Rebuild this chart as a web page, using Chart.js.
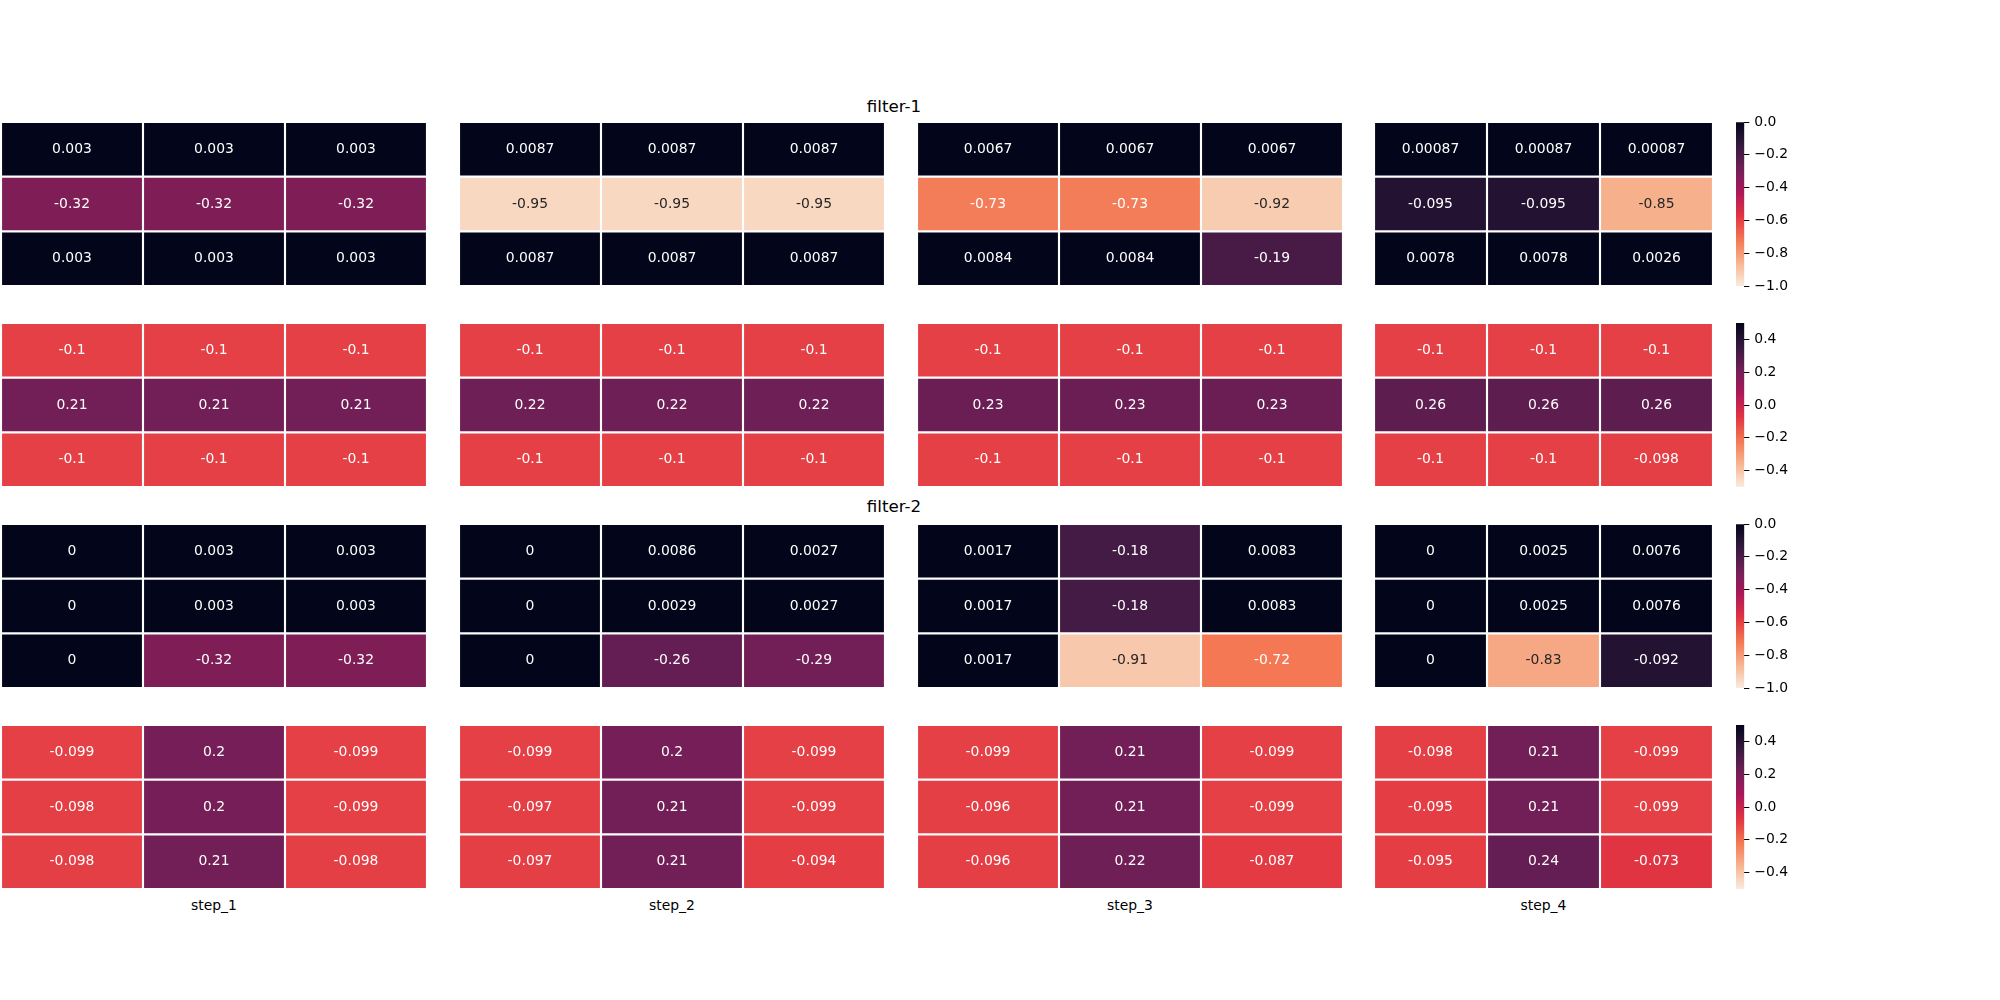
<!DOCTYPE html>
<html><head><meta charset="utf-8">
<script src="https://cdn.jsdelivr.net/npm/chart.js@4.4.0/dist/chart.umd.min.js"></script>
<style>
html,body{margin:0;padding:0;background:#fff;}
#fig{position:relative;width:2000px;height:1000px;overflow:hidden;font-family:'DejaVu Sans',sans-serif;background:#fff;}
.panel{position:absolute;}
.txt{position:absolute;white-space:nowrap;color:#000;transform:translate(-50%,-50%);line-height:1;font-family:'DejaVu Sans',sans-serif;}
</style></head><body><div id="fig"></div>
<script>
// ---------------- DATA ----------------
const steps = ['step_1', 'step_2', 'step_3', 'step_4'];
const filters = ['filter-1', 'filter-2'];

// filter-1, upper matrices (one 3x3 per step)
const filter1Top = [
  [[0.003, 0.003, 0.003], [-0.32, -0.32, -0.32], [0.003, 0.003, 0.003]],
  [[0.0087, 0.0087, 0.0087], [-0.95, -0.95, -0.95], [0.0087, 0.0087, 0.0087]],
  [[0.0067, 0.0067, 0.0067], [-0.73, -0.73, -0.92], [0.0084, 0.0084, -0.19]],
  [[0.00087, 0.00087, 0.00087], [-0.095, -0.095, -0.85], [0.0078, 0.0078, 0.0026]]
];
// filter-1, lower matrices
const filter1Bottom = [
  [[-0.1, -0.1, -0.1], [0.21, 0.21, 0.21], [-0.1, -0.1, -0.1]],
  [[-0.1, -0.1, -0.1], [0.22, 0.22, 0.22], [-0.1, -0.1, -0.1]],
  [[-0.1, -0.1, -0.1], [0.23, 0.23, 0.23], [-0.1, -0.1, -0.1]],
  [[-0.1, -0.1, -0.1], [0.26, 0.26, 0.26], [-0.1, -0.1, -0.098]]
];
// filter-2, upper matrices
const filter2Top = [
  [[0, 0.003, 0.003], [0, 0.003, 0.003], [0, -0.32, -0.32]],
  [[0, 0.0086, 0.0027], [0, 0.0029, 0.0027], [0, -0.26, -0.29]],
  [[0.0017, -0.18, 0.0083], [0.0017, -0.18, 0.0083], [0.0017, -0.91, -0.72]],
  [[0, 0.0025, 0.0076], [0, 0.0025, 0.0076], [0, -0.83, -0.092]]
];
// filter-2, lower matrices
const filter2Bottom = [
  [[-0.099, 0.2, -0.099], [-0.098, 0.2, -0.099], [-0.098, 0.21, -0.098]],
  [[-0.099, 0.2, -0.099], [-0.097, 0.21, -0.099], [-0.097, 0.21, -0.094]],
  [[-0.099, 0.21, -0.099], [-0.096, 0.21, -0.099], [-0.096, 0.22, -0.087]],
  [[-0.098, 0.21, -0.099], [-0.095, 0.21, -0.099], [-0.095, 0.24, -0.073]]
];

const rangeTop = [-1, 0];
const rangeBottom = [-0.5, 0.5];
const cbarTicksTop = [0, -0.2, -0.4, -0.6, -0.8, -1.0];
const cbarTicksBottom = [0.4, 0.2, 0, -0.2, -0.4];

// ---------------- LAYOUT ----------------
const colX = [1, 459, 917, 1374];
const colW = [426, 426, 426, 339];
const rowY = [122, 323, 524, 725];
const rowH = 164;
const cbarX = 1736, cbarW = 8.3;

// ---------------- COLORS ----------------
const ROCKET = [
  [0, [3, 5, 26]], [1/7, [53, 25, 62]], [2/7, [112, 31, 87]], [3/7, [173, 23, 89]],
  [4/7, [225, 51, 66]], [5/7, [243, 118, 81]], [6/7, [246, 180, 143]], [1, [250, 235, 221]]
];
function rocket(t) {
  t = Math.max(0, Math.min(1, t));
  for (let k = 1; k < ROCKET.length; k++) {
    if (t <= ROCKET[k][0]) {
      const [t0, c0] = ROCKET[k-1], [t1, c1] = ROCKET[k];
      const f = (t - t0) / (t1 - t0);
      return c0.map((c, i) => Math.round(c + (c1[i] - c) * f));
    }
  }
  return ROCKET[ROCKET.length-1][1];
}
function rgbFor(v, lo, hi) { return rocket(1 - (v - lo) / (hi - lo)); }
function cssRgb(c) { return 'rgb(' + c[0] + ',' + c[1] + ',' + c[2] + ')'; }
function textColor(c) {
  const lin = c.map(x => { x /= 255; return x <= 0.03928 ? x / 12.92 : Math.pow((x + 0.055) / 1.055, 2.4); });
  const lum = 0.2126 * lin[0] + 0.7152 * lin[1] + 0.0722 * lin[2];
  return lum > 0.408 ? 'rgb(38,38,38)' : '#fff';
}
function fmt(v) {
  if (v === 0) return '0';
  let s = v.toPrecision(2);
  if (s.indexOf('.') >= 0 && s.indexOf('e') < 0) s = s.replace(/0+$/, '').replace(/\.$/, '');
  return s;
}

Chart.defaults.font.family = "'DejaVu Sans', sans-serif";
Chart.defaults.color = '#000';

const fig = document.getElementById('fig');

const annotPlugin = {
  id: 'annot',
  afterDatasetsDraw(chart) {
    const ctx = chart.ctx;
    ctx.save();
    ctx.font = "13.9px 'DejaVu Sans'";
    ctx.textAlign = 'center';
    ctx.textBaseline = 'middle';
    chart.data.datasets.forEach((ds, i) => {
      chart.getDatasetMeta(i).data.forEach((bar, j) => {
        const p = bar.getCenterPoint();
        ctx.fillStyle = textColor(ds.cellRgb[j]);
        ctx.fillText(fmt(ds.cellValues[j]), p.x, p.y);
      });
    });
    ctx.restore();
  }
};

function makeCanvas(left, top, w, h) {
  const div = document.createElement('div');
  div.className = 'panel';
  div.style.left = left + 'px'; div.style.top = top + 'px';
  div.style.width = w + 'px'; div.style.height = h + 'px';
  const cv = document.createElement('canvas');
  cv.width = w; cv.height = h;
  cv.style.width = w + 'px'; cv.style.height = h + 'px';
  div.appendChild(cv); fig.appendChild(div);
  return cv;
}

function makePanel(values, range, left, top, w, h) {
  const cv = makeCanvas(left, top, w, h);
  new Chart(cv, {
    type: 'bar',
    data: {
      labels: values[0].map((_, j) => 'c' + j),
      datasets: values.map(row => {
        const rgb = row.map(v => rgbFor(v, range[0], range[1]));
        return {
          data: row.map(() => 1),
          backgroundColor: rgb.map(cssRgb),
          borderColor: '#fff', borderWidth: 1.4, borderSkipped: false,
          barPercentage: 1, categoryPercentage: 1,
          cellValues: row, cellRgb: rgb
        };
      })
    },
    options: {
      responsive: false, animation: false, devicePixelRatio: 1,
      layout: { padding: 0 },
      plugins: { legend: { display: false }, tooltip: { enabled: false } },
      scales: {
        x: { display: false, stacked: true },
        y: { display: false, stacked: true, min: 0, max: values.length, reverse: true }
      }
    },
    plugins: [annotPlugin]
  });
}

function makeCbar(range, ticks, top, h) {
  const padL = 10, padT = 20, cw = 90;
  const cv = makeCanvas(cbarX - padL, top - padT, cw, h + 2 * padT);
  const lo = range[0], hi = range[1];
  new Chart(cv, {
    type: 'bar',
    data: {
      labels: ['cb'],
      datasets: [{
        data: [[lo, hi]],
        backgroundColor: (c) => {
          const ca = c.chart.chartArea;
          if (!ca) return null;
          const g = c.chart.ctx.createLinearGradient(0, ca.bottom, 0, ca.top);
          const N = 64;
          for (let k = 0; k <= N; k++) {
            const v = lo + (hi - lo) * k / N;
            g.addColorStop(k / N, cssRgb(rgbFor(v, lo, hi)));
          }
          return g;
        },
        borderWidth: 0, barPercentage: 1, categoryPercentage: 1
      }]
    },
    options: {
      responsive: false, animation: false, devicePixelRatio: 1,
      layout: { padding: { left: padL, right: 0, top: padT, bottom: padT } },
      plugins: { legend: { display: false }, tooltip: { enabled: false } },
      scales: {
        x: { display: false },
        y: {
          position: 'right', min: lo, max: hi,
          afterBuildTicks: s => { s.ticks = ticks.map(v => ({ value: v })); },
          afterFit: s => { s.width = cw - padL - cbarW; },
          border: { display: false },
          grid: { drawOnChartArea: false, drawTicks: true, tickLength: 5, color: '#000', lineWidth: 1 },
          ticks: {
            padding: 5, color: '#000', font: { size: 13.9 },
            callback: v => (v < 0 ? '\u2212' : '') + Math.abs(v).toFixed(1)
          }
        }
      }
    }
  });
}

const blocks = [filter1Top, filter1Bottom, filter2Top, filter2Bottom];
const blockRanges = [rangeTop, rangeBottom, rangeTop, rangeBottom];
const blockTicks = [cbarTicksTop, cbarTicksBottom, cbarTicksTop, cbarTicksBottom];

blocks.forEach((blk, r) => {
  blk.forEach((mat, c) => makePanel(mat, blockRanges[r], colX[c], rowY[r], colW[c], rowH));
  makeCbar(blockRanges[r], blockTicks[r], rowY[r], rowH);
});

function addText(str, cx, cy, size) {
  const d = document.createElement('div');
  d.className = 'txt';
  d.style.left = cx + 'px'; d.style.top = cy + 'px'; d.style.fontSize = size + 'px';
  d.textContent = str;
  fig.appendChild(d);
}
addText(filters[0], 894, 106, 16.7);
addText(filters[1], 894, 506, 16.7);
steps.forEach((s, c) => addText(s, colX[c] + colW[c] / 2, 906, 13.9));
</script>
</body></html>
